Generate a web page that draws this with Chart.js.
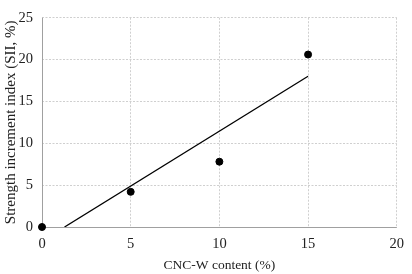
<!DOCTYPE html>
<html><head><meta charset="utf-8">
<script src="https://cdn.jsdelivr.net/npm/chart.js@4/dist/chart.umd.min.js"></script>
<style>html,body{margin:0;padding:0;background:#fff;}canvas{display:block;}</style>
</head><body>
<canvas id="c" width="412" height="274"></canvas>
<script>
const contentX = [0, 5, 10, 15];
const siiY = [0, 4.2, 7.8, 20.6];
const trendX = [1.27, 15];
const trendY = [0, 18];
const xTitle = 'CNC-W content (%)';
const yTitle = 'Strength increment index (SII, %)';

const FONT = '"Liberation Serif", "Times New Roman", serif';
const solidAxes = {
  id:'solidAxes',
  beforeDatasetsDraw(chart){
    const {ctx, chartArea:a} = chart;
    ctx.save();
    ctx.setLineDash([]);
    ctx.strokeStyle = '#a0a0a0';
    ctx.lineWidth = 1;
    ctx.beginPath();
    ctx.moveTo(Math.round(a.left)+0.5, a.top);
    ctx.lineTo(Math.round(a.left)+0.5, Math.round(a.bottom)+0.5);
    ctx.lineTo(a.right, Math.round(a.bottom)+0.5);
    ctx.stroke();
    ctx.restore();
  }
};
new Chart(document.getElementById('c'), {
  type: 'scatter',
  data: {
    datasets: [
      { data: contentX.map((x,i)=>({x, y: siiY[i]})), backgroundColor:'#000', borderColor:'#000', pointRadius:3.5, pointHoverRadius:3.5, showLine:false, clip:false, order:1 },
      { data: trendX.map((x,i)=>({x, y: trendY[i]})), borderColor:'#000', borderWidth:1.3, pointRadius:0, showLine:true, fill:false, order:2 }
    ]
  },
  plugins:[solidAxes],
  options: {
    responsive:false, animation:false,
    layout:{padding:{top:14,right:12,left:0,bottom:0}},
    plugins:{legend:{display:false}, tooltip:{enabled:false}},
    scales:{
      x:{type:'linear', min:0, max:20,
        ticks:{stepSize:5, color:'#222', font:{family:FONT,size:14.5}, padding:8},
        grid:{color:'#cfcfcf', drawTicks:false},
        border:{display:false, dash:[2,1.5]},
        title:{display:true, text:xTitle, color:'#222', font:{family:FONT,size:13.5}, padding:{top:1,bottom:0}},
        afterFit(s){ s.height = 47; }
      },
      y:{type:'linear', min:0, max:25,
        ticks:{stepSize:5, color:'#222', font:{family:FONT,size:14.5}, padding:9},
        grid:{color:'#cfcfcf', drawTicks:false},
        border:{display:false, dash:[2,1.5]},
        title:{display:true, text:yTitle, color:'#222', font:{family:FONT,size:15}, padding:{top:2,bottom:0}},
        afterFit(s){ s.width = 42; }
      }
    }
  }
});
</script>
</body></html>
